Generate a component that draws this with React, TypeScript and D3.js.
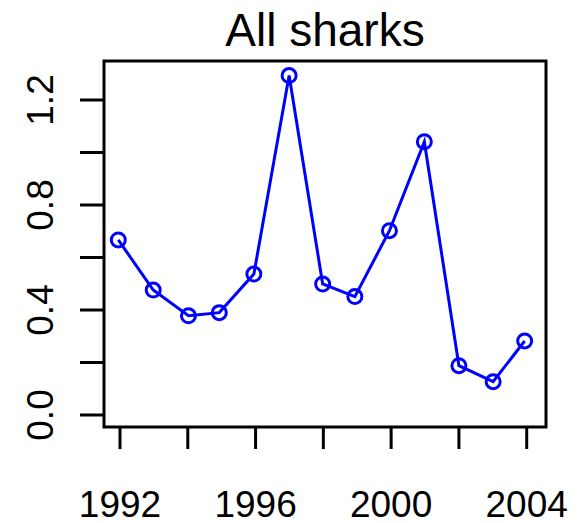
import React from "react";
import * as d3 from "d3";

const years = [1991.95, 1992.98, 1994.02, 1994.93, 1995.95, 1996.99, 1997.98, 1998.93, 1999.95, 2000.98, 2002.0, 2003.01, 2003.94];
const values = [0.667, 0.476, 0.378, 0.39, 0.537, 1.293, 0.499, 0.451, 0.702, 1.041, 0.188, 0.127, 0.282];
const xTicks = [1992, 1994, 1996, 1998, 2000, 2002, 2004];
const xLabels = [1992, 1996, 2000, 2004];
const yTicks = [0, 0.2, 0.4, 0.6, 0.8, 1.0, 1.2];
const yLabels = [0, 0.4, 0.8, 1.2];
const title = "All sharks";

export default function App() {
  const W = 581, H = 523;
  const box = { l: 104, r: 546, t: 61, b: 427 };
  const x = d3.scaleLinear().domain([1992, 2004]).range([120, 526.7]);
  const y = d3.scaleLinear().domain([0, 1.2]).range([415, 100]);
  const line = d3.line<number>().x((_, i) => x(years[i])).y((d) => y(d));
  const font = "'Liberation Sans', Arial, sans-serif";
  const blue = "#0000ff";
  return (
    <svg width={W} height={H} style={{ position: "absolute", left: 0, top: 0 }} fontFamily={font}>
      <rect width={W} height={H} fill="white" />
      <text x={(box.l + box.r) / 2} y={46} textAnchor="middle" fontSize={46}>{title}</text>
      <rect x={box.l} y={box.t} width={box.r - box.l} height={box.b - box.t} fill="none" stroke="black" strokeWidth={3} />
      {xTicks.map((t) => (
        <line key={t} x1={x(t)} x2={x(t)} y1={box.b} y2={449} stroke="black" strokeWidth={3} />
      ))}
      {xLabels.map((t) => (
        <text key={t} x={x(t)} y={516.5} textAnchor="middle" fontSize={37}>{t}</text>
      ))}
      {yTicks.map((t) => (
        <line key={t} x1={80} x2={box.l} y1={y(t)} y2={y(t)} stroke="black" strokeWidth={3} />
      ))}
      {yLabels.map((t) => (
        <text key={t} transform={`translate(53,${y(t)}) rotate(-90)`} textAnchor="middle" fontSize={37}>{t.toFixed(1)}</text>
      ))}
      <path d={line(values) || ""} fill="none" stroke={blue} strokeWidth={3} />
      {values.map((v, i) => (
        <circle key={i} cx={x(years[i])} cy={y(v)} r={7} fill="none" stroke={blue} strokeWidth={3} />
      ))}
    </svg>
  );
}
